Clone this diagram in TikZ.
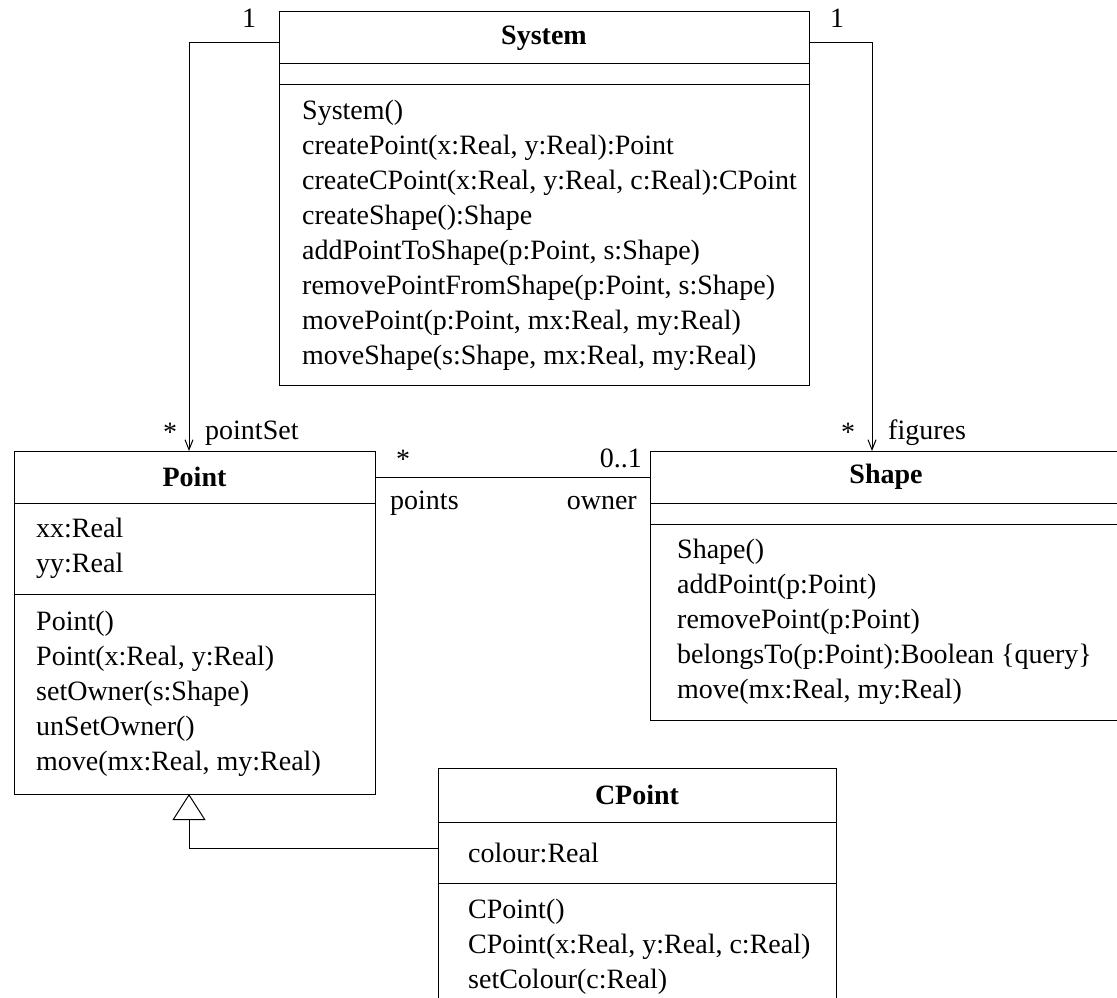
\documentclass[tikz,border=0pt]{standalone}
\usepackage{fontspec}
\setmainfont{Liberation Serif}
\usetikzlibrary{positioning,arrows.meta}
\newcommand{\umlfont}{\fontsize{28pt}{35pt}\selectfont}
\tikzset{
  classname/.style={draw, line width=1pt, outer sep=0pt, inner sep=0pt, minimum height=52pt, font=\umlfont\bfseries},
  compart/.style={draw, line width=1pt, outer sep=0pt, inner sep=0pt, minimum height=#1},
  members/.style={align=left, inner sep=0pt, anchor=west, font=\umlfont},
  mult/.style={inner sep=0pt, font=\umlfont},
  assoc/.style={line width=1pt, -{Straight Barb[length=10pt,width=8pt]}},
  inherit/.style={line width=1pt, -{Triangle[open,length=26pt,width=33pt]}},
}

\begin{document}
\begin{tikzpicture}[x=1pt,y=-1pt]
    \useasboundingbox (0,0) rectangle (1117,998);
    \clip (0,0) rectangle (1117,998);

    % System
    \node[classname, minimum width=530pt, anchor=north west] (system) at (279,12) {System};
    \node[compart=21pt, minimum width=530pt, below=0pt of system] (system-attr) {};
    \node[compart=300pt, minimum width=530pt, below=0pt of system-attr] (system-ops) {};
    \node[members, right=23pt of system-ops.west] (system-optext)
        {System()\\createPoint(x:Real, y:Real):Point\\createCPoint(x:Real, y:Real, c:Real):CPoint\\
         createShape():Shape\\addPointToShape(p:Point, s:Shape)\\removePointFromShape(p:Point, s:Shape)\\
         movePoint(p:Point, mx:Real, my:Real)\\moveShape(s:Shape, mx:Real, my:Real)};

    % Point
    \node[classname, minimum width=361pt, anchor=north west] (point) at (14,451) {Point};
    \node[compart=91pt, minimum width=361pt, below=0pt of point] (point-attr) {};
    \node[members, right=22pt of point-attr.west] (point-attrtext) {xx:Real\\yy:Real};
    \node[compart=200pt, minimum width=361pt, below=0pt of point-attr] (point-ops) {};
    \node[members, right=22pt of point-ops.west] (point-optext)
        {Point()\\Point(x:Real, y:Real)\\setOwner(s:Shape)\\unSetOwner()\\move(mx:Real, my:Real)};

    % Shape
    \node[classname, minimum width=472pt, anchor=north west] (shape) at (650,451) {Shape};
    \node[compart=21pt, minimum width=472pt, below=0pt of shape] (shape-attr) {};
    \node[compart=196pt, minimum width=472pt, below=0pt of shape-attr] (shape-ops) {};
    \node[members, right=27pt of shape-ops.west] (shape-optext)
        {Shape()\\addPoint(p:Point)\\removePoint(p:Point)\\belongsTo(p:Point):Boolean \{query\}\\move(mx:Real, my:Real)};

    % CPoint
    \node[classname, minimum width=398pt, minimum height=54pt, anchor=north west] (cpoint) at (438,768) {CPoint};
    \node[compart=61pt, minimum width=398pt, below=0pt of cpoint] (cpoint-attr) {};
    \node[members, right=30pt of cpoint-attr.west] (cpoint-attrtext) {colour:Real};
    \node[compart=128pt, minimum width=398pt, below=0pt of cpoint-attr] (cpoint-ops) {};
    \node[members, right=30pt of cpoint-ops.west] (cpoint-optext)
        {CPoint()\\CPoint(x:Real, y:Real, c:Real)\\setColour(c:Real)};

    % associations
    \draw[assoc] ([yshift=-5pt]system.west) -| ([xshift=175pt]point.north west);
    \draw[assoc] ([yshift=-5pt]system.east) -| ([xshift=222pt]shape.north west);
    \draw[line width=1pt] (point.east) -- (shape.west);
    \draw[inherit] ([yshift=4pt]cpoint-attr.west) -| ([xshift=175pt]point-ops.south west);

    % multiplicities and roles
    \node[mult, anchor=base] (pointset-one) at (249,28) {1};
    \node[mult, anchor=base] (pointset-many) at (170,441) {*};
    \node[mult, anchor=base west] (pointset-role) at (205,439) {pointSet};
    \node[mult, anchor=base] (figures-one) at (837,28) {1};
    \node[mult, anchor=base] (figures-many) at (848,441) {*};
    \node[mult, anchor=base west] (figures-role) at (888,439) {figures};
    \node[mult, anchor=base] (points-many) at (403,468) {*};
    \node[mult, anchor=base east] (owner-one) at (642,467) {0..1};
    \node[mult, anchor=base west] (points-role) at (390,509) {points};
    \node[mult, anchor=base east] (owner-role) at (637,509) {owner};
\end{tikzpicture}
\end{document}
